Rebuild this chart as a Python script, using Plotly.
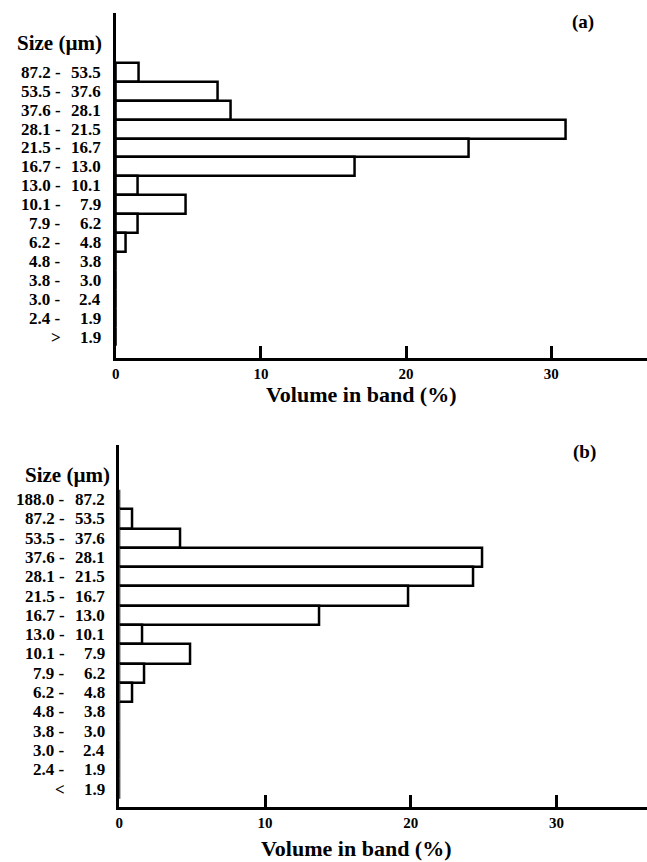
import plotly.graph_objects as go

# ---------------- data ----------------
bands_a_upper = ["87.2", "53.5", "37.6", "28.1", "21.5", "16.7", "13.0", "10.1", "7.9", "6.2", "4.8", "3.8", "3.0", "2.4", ">"]
bands_a_lower = ["53.5", "37.6", "28.1", "21.5", "16.7", "13.0", "10.1", "7.9", "6.2", "4.8", "3.8", "3.0", "2.4", "1.9", "1.9"]
volume_a = [1.6, 7.0, 7.9, 31.0, 24.3, 16.5, 1.5, 4.8, 1.5, 0.7, 0, 0, 0, 0, 0]

bands_b_upper = ["188.0", "87.2", "53.5", "37.6", "28.1", "21.5", "16.7", "13.0", "10.1", "7.9", "6.2", "4.8", "3.8", "3.0", "2.4", "<"]
bands_b_lower = ["87.2", "53.5", "37.6", "28.1", "21.5", "16.7", "13.0", "10.1", "7.9", "6.2", "4.8", "3.8", "3.0", "2.4", "1.9", "1.9"]
volume_b = [0, 0.9, 4.2, 24.9, 24.3, 19.8, 13.7, 1.6, 4.9, 1.7, 0.9, 0, 0, 0, 0, 0]

x_ticks = [0, 10, 20, 30]
x_title = "Volume in band (%)"
size_header = "Size (µm)"

W, H = 647, 862
FONT = "Liberation Serif, Times New Roman, serif"


def px(x):
    return x / W


def py(y):
    return 1 - y / H


fig = go.Figure()

panels = [
    dict(upper=bands_a_upper, lower=bands_a_lower, vals=volume_a, xa="x", ya="y",
         left=112.5, top=13, bottom=358, xmax=36.6, yr=[-0.11, 18.14],
         hy=58, rx=99, head=(56, 43), title=(360, 394), tag="(a)", tagpos=(583, 22)),
    dict(upper=bands_b_upper, lower=bands_b_lower, vals=volume_b, xa="x2", ya="y2",
         left=116, top=445, bottom=807, xmax=36.2, yr=[0.07, 18.83],
         hy=62, rx=103, head=(64, 475), title=(355, 848), tag="(b)", tagpos=(584, 452)),
]

annotations = []
layout_axes = {}
for i, p in enumerate(panels):
    n = len(p["vals"])
    ypos = [n - k for k in range(n)]
    fig.add_trace(go.Bar(
        x=p["vals"], y=ypos, orientation="h", width=1,
        marker=dict(color="white", line=dict(color="black", width=2.5)),
        xaxis=p["xa"], yaxis=p["ya"], showlegend=False, hoverinfo="x",
    ))
    xkey = "xaxis" if i == 0 else "xaxis2"
    ykey = "yaxis" if i == 0 else "yaxis2"
    layout_axes[xkey] = dict(
        domain=[px(p["left"]), 1], range=[0, p["xmax"]], anchor=p["ya"],
        showline=True, linecolor="black", linewidth=2.5, showgrid=False, zeroline=False,
        ticks="inside", ticklen=12, tickwidth=2.5, tickcolor="black",
        tickvals=x_ticks, tickfont=dict(family=FONT, size=15, color="black", weight="bold"),
        fixedrange=True,
    )
    layout_axes[ykey] = dict(
        domain=[py(p["bottom"]), py(p["top"])], range=p["yr"], anchor=p["xa"],
        showline=True, linecolor="black", linewidth=2.5, showgrid=False, zeroline=False,
        showticklabels=False, ticks="", fixedrange=True,
    )
    lab_font = dict(family=FONT, size=17, color="black", weight="bold")
    for k in range(n):
        annotations.append(dict(
            text=p["upper"][k] + " -" if p["upper"][k] not in (">", "<") else p["upper"][k],
            x=px(p["hy"]), xref="paper", y=ypos[k], yref=p["ya"],
            xanchor="right", yanchor="middle", showarrow=False, font=lab_font, borderpad=0))
        annotations.append(dict(
            text=p["lower"][k],
            x=px(p["rx"]), xref="paper", y=ypos[k], yref=p["ya"],
            xanchor="right", yanchor="middle", showarrow=False, font=lab_font, borderpad=0))
    annotations.append(dict(
        text=size_header, x=px(p["head"][0]), y=py(p["head"][1]), xref="paper", yref="paper",
        xanchor="center", yanchor="middle", showarrow=False,
        font=dict(family=FONT, size=21, color="black", weight="bold")))
    annotations.append(dict(
        text=x_title, x=px(p["title"][0]), y=py(p["title"][1]), xref="paper", yref="paper",
        xanchor="center", yanchor="middle", showarrow=False, borderpad=0,
        font=dict(family=FONT, size=22, color="black", weight="bold")))
    annotations.append(dict(
        text=p["tag"], x=px(p["tagpos"][0]), y=py(p["tagpos"][1]), xref="paper", yref="paper",
        xanchor="center", yanchor="middle", showarrow=False,
        font=dict(family=FONT, size=19, color="black", weight="bold")))

fig.update_layout(
    width=W, height=H, margin=dict(l=0, r=0, t=0, b=0),
    paper_bgcolor="white", plot_bgcolor="white",
    bargap=0, annotations=annotations, **layout_axes,
)

fig.write_html(
    "out.html",
    config={"displayModeBar": False},
    post_script="document.body.style.margin='0';document.body.style.padding='0';"
                "document.documentElement.style.overflow='hidden';",
)
